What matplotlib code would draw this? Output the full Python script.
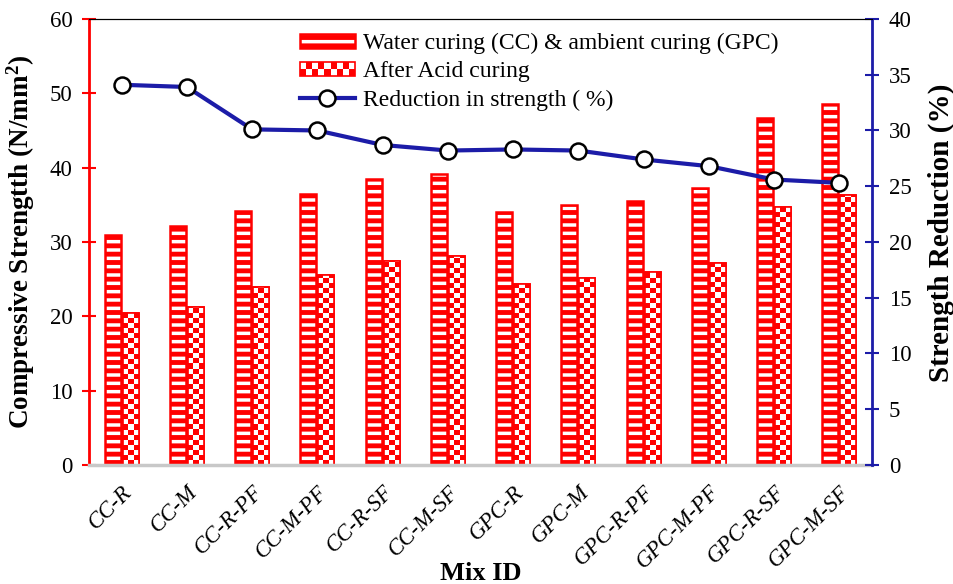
import numpy as np
import matplotlib.pyplot as plt
from matplotlib.colors import ListedColormap
from matplotlib.patches import Rectangle
from matplotlib.legend_handler import HandlerBase

mixes = ["CC-R", "CC-M", "CC-R-PF", "CC-M-PF", "CC-R-SF", "CC-M-SF",
         "GPC-R", "GPC-M", "GPC-R-PF", "GPC-M-PF", "GPC-R-SF", "GPC-M-SF"]
water = [31.0, 32.2, 34.2, 36.4, 38.5, 39.1, 34.0, 35.0, 35.5, 37.2, 46.7, 48.6]
acid = [20.4, 21.3, 23.9, 25.5, 27.5, 28.1, 24.3, 25.2, 25.9, 27.2, 34.7, 36.3]
reduction = [34.1, 33.9, 30.1, 30.0, 28.7, 28.2, 28.3, 28.2, 27.4, 26.8, 25.6, 25.3]

plt.rcParams['font.family'] = ['Liberation Serif', 'DejaVu Serif']
plt.rcParams['hatch.linewidth'] = 3.5
plt.rcParams['mathtext.fontset'] = 'custom'
plt.rcParams['mathtext.bf'] = 'Liberation Serif:bold'
plt.rcParams['mathtext.rm'] = 'Liberation Serif'


class CheckerHandler(HandlerBase):
    # legend box with a red/white checkerboard
    def create_artists(self, legend, orig, xd, yd, width, height, fontsize, trans):
        arts = [Rectangle((-xd, -yd), width, height, fc='white', ec='red', lw=1.2,
                          transform=trans)]
        n, rows = 9, 2
        cw, ch = width / n, height / rows
        for i in range(n):
            for j in range(rows):
                if (i + j) % 2 == 0:
                    arts.append(Rectangle((-xd + i * cw, -yd + j * ch), cw, ch,
                                          fc='red', ec='none', transform=trans))
        return arts


fig = plt.figure(figsize=(9.54, 5.84), dpi=100)
ax = fig.add_axes([0.0933, 0.2038, 0.8208, 0.7637])
ax2 = ax.twinx()

x = np.arange(len(mixes))
w = 0.245
off = 0.137

# water curing bars: red stripes
ax.bar(x - off, water, w, color='white', edgecolor='red', linewidth=1.8,
       hatch='--', zorder=2, label='Water curing (CC) & ambient curing (GPC)')

# acid curing bars: checkerboard drawn as clipped image
acid_bars = ax.bar(x + off, acid, w, color='white', edgecolor='red', linewidth=1.2,
                   zorder=2, label='After Acid curing')
cmap = ListedColormap(['white', 'red'])
cell_h = 0.68
for b in acid_bars:
    x0 = b.get_x()
    h = b.get_height()
    nrow = int(np.ceil(h / cell_h))
    grid = (np.add.outer(np.arange(nrow), np.arange(3)) % 2).astype(float)
    im = ax.imshow(grid, cmap=cmap, vmin=0, vmax=1, origin='lower', aspect='auto',
                   interpolation='nearest',
                   extent=[x0, x0 + b.get_width(), 0, nrow * cell_h], zorder=2.1)
    im.set_clip_path(b)
    ax.bar(x0 + b.get_width() / 2, h, b.get_width(), color='none', edgecolor='red',
           linewidth=1.2, zorder=2.2)

ax.set_xlim(-0.5, len(mixes) - 0.5)
ax.set_ylim(0, 60)
ax.set_yticks(np.arange(0, 61, 10))
ax.set_xticks(x)
ax.set_xticklabels(mixes, rotation=45, ha='right', rotation_mode='anchor',
                   style='italic', fontsize=16.5)
ax.tick_params(axis='x', length=0, pad=12)
ax.tick_params(axis='y', direction='inout', length=10, width=1.5, colors='red',
               labelcolor='black', labelsize=16.5, pad=7)

ax2.plot(x, reduction, color='#1c1ca8', lw=3, marker='o', markersize=11.5,
         markerfacecolor='white', markeredgecolor='black', markeredgewidth=1.8,
         label='Reduction in strength ( %)', zorder=5)
ax2.set_ylim(0, 40)
ax2.set_yticks(np.arange(0, 41, 5))
ax2.tick_params(axis='y', direction='inout', length=10, width=1.5, colors='#1c1ca8',
                labelcolor='black', labelsize=16.5, pad=7)

ax.spines['left'].set_color('red')
ax.spines['left'].set_linewidth(2)
ax2.spines['left'].set_visible(False)
ax2.spines['right'].set_color('#1c1ca8')
ax2.spines['right'].set_linewidth(2)
ax2.spines['top'].set_color('black')
ax.spines['bottom'].set_color('#c8c8c8')
ax.spines['bottom'].set_linewidth(2.5)
ax2.spines['bottom'].set_visible(False)
ax.spines['right'].set_visible(False)

ax.set_ylabel('Compressive Strengtth (N/mm$\\mathbf{^2}$)', fontsize=19.5, fontweight='bold')
ax.yaxis.set_label_coords(-0.066, 0.5)
ax2.set_ylabel('Strength Reduction (%)', fontsize=21, fontweight='bold')
ax2.yaxis.set_label_coords(1.071, 0.52)
ax.set_xlabel('Mix ID', fontsize=19, fontweight='bold')
ax.xaxis.set_label_coords(0.5, -0.218)

ax.set_zorder(1)
ax2.set_zorder(2)
ax2.patch.set_visible(False)

h1, l1 = ax.get_legend_handles_labels()
h2, l2 = ax2.get_legend_handles_labels()
ax2.legend(h1 + h2, l1 + l2, loc='upper left', bbox_to_anchor=(0.251, 1.0),
           handler_map={acid_bars: CheckerHandler()},
           frameon=False, fontsize=17, handlelength=2.35, handleheight=0.55,
           handletextpad=0.35, labelspacing=0.3, borderaxespad=0.2)

fig.savefig('out.png', dpi=100)
